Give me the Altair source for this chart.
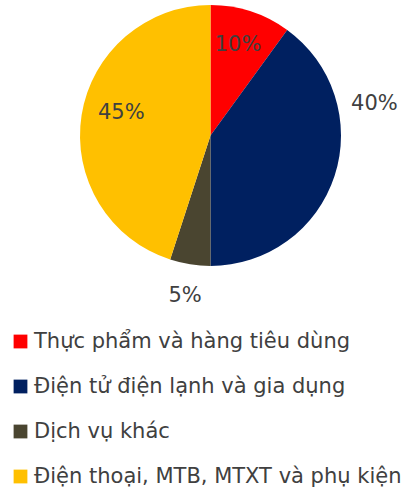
import altair as alt
import pandas as pd

categories = ["Thực phẩm và hàng tiêu dùng", "Điện tử điện lạnh và gia dụng", "Dịch vụ khác", "Điện thoại, MTB, MTXT và phụ kiện"]
values = [10, 40, 5, 45]
labels = ["10%", "40%", "5%", "45%"]
colors = ["#FF0000", "#002060", "#4A4530", "#FFC000"]

df = pd.DataFrame({"cat": categories, "val": values, "lab": labels, "ord": list(range(len(categories)))})

FONT = "DejaVu Sans"
TXT = "#404040"
FS = 21

pie = alt.Chart(df).mark_arc(stroke=None).encode(
    theta=alt.Theta("val:Q", stack=True),
    order=alt.Order("ord:Q"),
    color=alt.Color("cat:N", sort=categories,
                    scale=alt.Scale(domain=categories, range=colors),
                    legend=alt.Legend(title=None, orient="none", legendX=-70, legendY=326,
                                      padding=0,
                                      direction="vertical", symbolType="square", symbolSize=190,
                                      symbolStrokeWidth=0, labelFont=FONT, labelFontSize=FS,
                                      labelColor=TXT, labelLimit=500, rowPadding=23, labelOffset=3)),
)

tbase = alt.Chart(df).transform_window(
    cum="sum(val)", sort=[alt.SortField("ord")], frame=[None, 0]
).transform_calculate(mid="datum.cum - datum.val / 2")

def lbl(i, r, toff=0.0):
    return tbase.transform_filter(alt.datum.ord == i).mark_text(
        radius=r, thetaOffset=toff, font=FONT, fontSize=FS, color=TXT
    ).encode(
        theta=alt.Theta("mid:Q", scale=alt.Scale(domain=[0, 100])),
        text="lab:N",
    )

chart = alt.layer(
    pie,
    lbl(0, 95, -0.02),
    lbl(1, 167, -0.506),
    lbl(2, 162),
    lbl(3, 92, 0.09),
).resolve_scale(theta="independent").properties(
    width=261, height=261,
    padding={"left": 80, "top": 5, "right": 69, "bottom": 225},
    autosize=alt.AutoSizeParams(type="none"),
).configure_view(stroke=None)

chart.save("out.html", embed_options={"renderer": "svg", "actions": False})
